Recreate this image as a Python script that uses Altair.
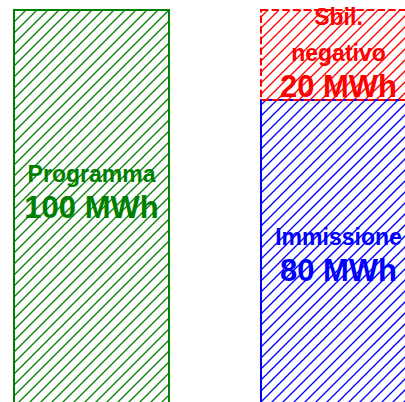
import altair as alt
import pandas as pd

# ---- data -------------------------------------------------------------
slots = [0, 1, 1]                                   # bar position (0 = left, 1 = right)
segments = ["Programma", "Immissione", "Sbil. negativo"]
values_mwh = [100, 80, 20]                          # stacked within each slot
colors = ["#008000", "#0000ff", "#ff0000"]
dashed = [False, False, True]

# ---- layout -----------------------------------------------------------
W, H = 405, 402
PX_PER_MWH = 4.5          # vertical scale
ZERO_PX = 460             # pixel row of 0 MWh (below the visible window)
SLOT_PX = 247             # distance between bar centres
FIRST_CENTER_PX = 91.5
BAR_PX = 155
HATCH_STEP = 11           # horizontal spacing of the "/" hatch lines
HATCH_PHASE = 3
LINE_GAP_PX = 36          # distance between text baselines
label_anchor_mwh = {"Programma": 61.8, "Immissione": 47.7, "Sbil. negativo": 96.7}


def to_x(px):
    return (px - FIRST_CENTER_PX) / SLOT_PX


def to_y(py):
    return (ZERO_PX - py) / PX_PER_MWH


half_w = BAR_PX / 2 / SLOT_PX
x_dom = [to_x(0), to_x(W)]
y_dom = [to_y(H), to_y(0)]

# stacked rectangles
rows = []
base = {}
for s, name, v, c, d in zip(slots, segments, values_mwh, colors, dashed):
    b = base.get(s, 0)
    rows.append(dict(slot=s, name=name, x=s - half_w, x2=s + half_w,
                     y=b, y2=b + v, value=v, color=c, dashed=d))
    base[s] = b + v
bars = pd.DataFrame(rows)

# hatch segments ("/" lines at 45 degrees) inside each rectangle
hatch = []
for r in rows:
    xl = FIRST_CENTER_PX + (r["x"]) * SLOT_PX
    xr = FIRST_CENTER_PX + (r["x2"]) * SLOT_PX
    yt = ZERO_PX - r["y2"] * PX_PER_MWH
    yb = min(ZERO_PX - r["y"] * PX_PER_MWH, H + 5)
    c0 = int(xl + yt) - 1
    c0 -= (c0 - HATCH_PHASE) % HATCH_STEP
    c = c0
    while c <= xr + yb:
        xs = max(xl, c - yb)
        xe = min(xr, c - yt)
        if xs < xe:
            hatch.append(dict(x=to_x(xs), x2=to_x(xe), y=to_y(c - xs),
                              y2=to_y(c - xe), color=r["color"]))
        c += HATCH_STEP
hatch = pd.DataFrame(hatch)

# text lines: category words, then the value
texts = []
for r in rows:
    lines = [(w, 23) for w in r["name"].split(" ")] + [(f"{r['value']} MWh", 31)]
    top = label_anchor_mwh[r["name"]]
    for i, (t, size) in enumerate(lines):
        texts.append(dict(x=r["slot"], y=top - i * LINE_GAP_PX / PX_PER_MWH,
                          text=t, size=size, color=r["color"]))
texts = pd.DataFrame(texts)

xs = alt.Scale(domain=x_dom, nice=False, zero=False)
ys = alt.Scale(domain=y_dom, nice=False, zero=False)

hatch_layer = alt.Chart(hatch).mark_rule(strokeWidth=1.3, clip=True).encode(
    x=alt.X("x:Q", scale=xs, axis=None),
    x2="x2:Q",
    y=alt.Y("y:Q", scale=ys, axis=None),
    y2="y2:Q",
    color=alt.Color("color:N", scale=None),
)

outline = alt.Chart(bars).encode(
    x=alt.X("x:Q", scale=xs, axis=None),
    x2="x2:Q",
    y=alt.Y("y:Q", scale=ys, axis=None),
    y2="y2:Q",
    color=alt.Color("color:N", scale=None),
)
solid = outline.transform_filter("!datum.dashed").mark_rect(
    filled=False, strokeWidth=2, clip=True)
dash = outline.transform_filter("datum.dashed").mark_rect(
    filled=False, strokeWidth=2, strokeDash=[7.4, 3.2], clip=True)

labels = alt.Chart(texts).mark_text(
    font="Liberation Sans", fontWeight="bold", align="center",
    baseline="alphabetic", clip=True,
).encode(
    x=alt.X("x:Q", scale=xs, axis=None),
    y=alt.Y("y:Q", scale=ys, axis=None),
    text="text:N",
    size=alt.Size("size:Q", scale=None),
    color=alt.Color("color:N", scale=None),
)

chart = alt.layer(hatch_layer, solid, dash, labels).properties(
    width=W, height=H, padding=0, background="white",
    autosize=alt.AutoSizeParams(type="none"),
).configure_view(stroke=None)

chart.save("out.html", embed_options={"renderer": "svg", "actions": False})
